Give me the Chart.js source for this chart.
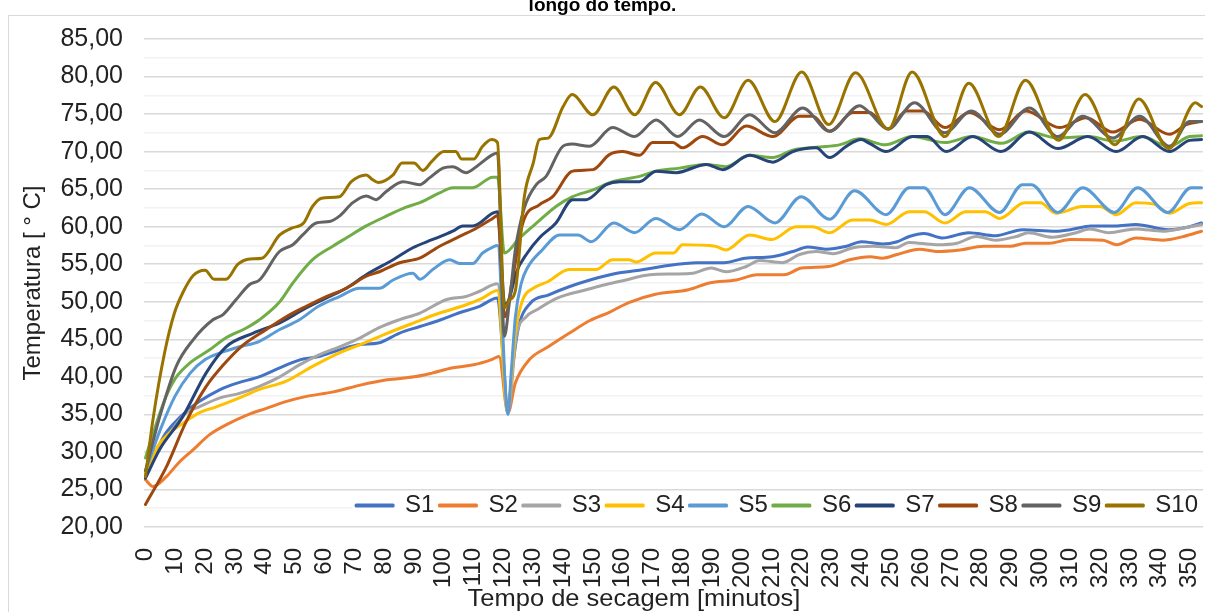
<!DOCTYPE html>
<html>
<head>
<meta charset="utf-8">
<script src="https://cdn.jsdelivr.net/npm/chart.js@4.4.1/dist/chart.umd.min.js"></script>
<style>
  html, body { margin: 0; padding: 0; background: #fff; }
  body { width: 1205px; height: 612px; overflow: hidden; position: relative; font-family: 'Liberation Sans', Arial, sans-serif; }
  #frame { position: absolute; left: 8px; top: 15px; width: 1220px; height: 640px; border: 1px solid #d9d9d9; box-sizing: border-box; }
  #chart { position: absolute; left: 0; top: 0; }
  #title { position: absolute; left: 0; top: -5px; width: 1205px; text-align: center; font-weight: bold; font-size: 19px; line-height: 19px; color: #000; }
  #xTitle { position: absolute; left: 634px; top: 585px; transform: translateX(-50%) scaleX(1.04); font-size: 24.5px; line-height: 26px; color: #222; white-space: nowrap; }
</style>
</head>
<body>
<div id="frame"></div>
<!-- canvas is taller than the page: the spare strip below holds the legend's layout slot -->
<canvas id="chart" width="1205" height="660"></canvas>
<div id="title">longo do tempo.</div>
<div id="xTitle">Tempo de secagem [minutos]</div>
<script>
// series names and colours
const seriesNames = ['S1', 'S2', 'S3', 'S4', 'S5', 'S6', 'S7', 'S8', 'S9', 'S10'];
const seriesColors = ['#4472c4', '#ed7d31', '#a5a5a5', '#ffc000', '#5b9bd5', '#70ad47', '#264478', '#9e480e', '#636363', '#997300'];

// [minute, temperature]
const s1 = [[0,26.8],[3,29.5],[6,32],[10,34],[14,35.5],[18,36.7],[25,38.3],[31,39.2],[38,40.0],[45,41.2],[52,42.3],[58,42.7],[65,43.6],[72,44.3],[78,44.5],[85,45.8],[92,46.7],[99,47.6],[105,48.5],[112,49.4],[118,50.5],[120,42],[121.5,35.2],[123,41],[125,46.5],[129,49.8],[135,50.9],[142,52.0],[149,52.9],[158,53.8],[167,54.3],[173,54.7],[185,55.2],[194,55.2],[201,55.8],[210,56.0],[217,56.7],[222,57.3],[228,57.0],[235,57.4],[240,58.0],[247,57.7],[252,58.0],[256,58.7],[261,59.1],[267,58.5],[276,59.2],[285,58.8],[294,59.6],[305,59.4],[310,59.6],[317,60.1],[325,60.1],[332,60.3],[343,59.6],[350,60.0],[354,60.5]];
const s2 = [[0,26.3],[2.5,25.4],[7,26.7],[11,28.5],[16,30.3],[21.5,32.3],[27,33.6],[34,34.9],[40.5,35.8],[47,36.7],[54,37.4],[63,38.0],[72,38.9],[81,39.6],[90,40.0],[96,40.5],[103,41.2],[110,41.6],[116,42.3],[118.5,42.7],[121.5,35.2],[124,39.2],[128.7,42.3],[135,44.0],[142,45.8],[149,47.5],[155.5,48.6],[162,49.9],[171,51.0],[182,51.6],[189,52.5],[198,52.9],[205,53.6],[214,53.6],[220,54.5],[229,54.7],[236,55.6],[243,56.0],[247,55.8],[252,56.3],[259.5,57.0],[265,56.7],[273,56.9],[281,57.4],[290,57.4],[295,57.8],[303,57.8],[310,58.3],[321,58.2],[325.4,57.6],[332,58.5],[341,58.2],[348,58.7],[354,59.4]];
const s3 = [[0,27.0],[4,30.0],[9,33.0],[13.6,35.2],[18,36.0],[25,37.2],[31.5,37.8],[38,38.7],[45,40.0],[51.6,41.6],[58,42.9],[65,44.0],[72,45.2],[78,46.5],[85,47.6],[92,48.5],[101,50.3],[107.5,50.7],[112,51.4],[118,52.4],[121.5,35.2],[124.3,45.4],[127.6,48.0],[131,48.9],[138,50.5],[147.7,51.6],[154.4,52.3],[161,52.9],[169,53.6],[177,53.7],[183.5,53.8],[189.6,54.5],[194.6,54.0],[201.4,54.7],[205.8,55.5],[213.6,55.2],[219.2,56.3],[224.8,56.7],[230.4,56.4],[237.2,57.2],[244,57.4],[251.6,57.2],[256,57.9],[265,57.6],[272,57.8],[278.5,58.7],[285,58.2],[292,58.7],[296,59.2],[304,58.6],[312,59.2],[316.5,59.7],[323,59.2],[332,59.7],[341,59.4],[347.7,59.8],[354,60.3]];
const s4 = [[0,27.0],[4,30.7],[8,32.5],[12.5,33.8],[18,35.2],[23.7,36.0],[31.5,37.2],[38,38.3],[47,39.4],[56,41.4],[65,43.2],[72,44.3],[81,45.8],[90,47.2],[98.6,48.5],[107.5,49.6],[113,50.5],[118,51.5],[121.3,35.5],[124,46],[126.5,50.3],[130,51.8],[135,52.7],[142,54.3],[151,54.3],[156.6,55.6],[162,55.6],[164.5,55.3],[171,56.5],[177,56.5],[180,57.6],[191,57.4],[194.6,56.9],[202.5,58.9],[210,58.3],[218,60.0],[223.7,60.0],[229.3,59.2],[237,60.9],[242.7,60.9],[248.3,60.3],[256,62.0],[261,62.0],[268,60.5],[275,62.0],[281.5,62.0],[286.3,61.1],[294.7,63.2],[300,63.2],[305.2,61.8],[314.2,62.7],[320,62.7],[325.4,61.6],[332,63.2],[338,63.0],[343.3,61.8],[350,63.1],[354,63.2]];
const s5 = [[0,27.5],[5,33],[10,37.5],[15,40.5],[20,42.3],[25,43.2],[31.5,44.0],[38,44.7],[45,46.3],[51.6,47.6],[58,49.4],[65,50.7],[71.7,51.8],[78.4,51.8],[83,52.9],[89.6,53.8],[92,53.0],[96.3,54.3],[102,55.6],[105.3,55.1],[109.7,55.1],[113,56.5],[116.5,57.3],[118,57.5],[121.5,35.0],[122.5,40],[124,48],[126,52.5],[128,54.5],[133,56.9],[138.8,58.9],[145,58.9],[149.4,58.0],[157,60.5],[164,59.2],[171,61.1],[179,59.6],[186.5,61.7],[194,60.0],[202,62.7],[211,60.5],[219.8,64.0],[229.3,61.0],[237.7,64.8],[248.3,61.6],[256,65.2],[261,65.2],[268,61.6],[276.2,65.2],[286.3,61.9],[294,65.6],[297,65.6],[305.8,61.9],[314.2,65.2],[324.8,61.9],[332.6,65.2],[342.7,61.9],[350.5,65.2],[354,65.2]];
const s6 = [[0,29.2],[3,33],[7,37.5],[10,39.8],[14.7,41.8],[21.5,43.6],[27,45.2],[33.8,46.5],[38.2,47.6],[45,50.0],[49.4,52.5],[56,55.6],[62.8,57.4],[67.3,58.5],[74,60.1],[80.7,61.4],[87.4,62.6],[92,63.2],[98.6,64.5],[103,65.2],[109.7,65.2],[116.4,66.6],[118,66.6],[120.3,56.5],[125.4,58.5],[132,60.8],[137.6,62.7],[143.2,64.0],[150,64.9],[156.6,66.0],[165.6,66.7],[171.2,67.4],[179,67.8],[188,68.3],[194.6,68.0],[202.5,69.5],[210.3,69.2],[217,70.2],[226,70.6],[232.6,70.9],[239.4,71.7],[248,70.9],[257,72.0],[268,71.2],[277,72.0],[287,71.1],[296,72.6],[306,71.8],[316,72.0],[325,71.4],[334,72.0],[343,70.7],[350,72.0],[354,72.1]];
const s7 = [[0,26.5],[4.7,30.3],[12.5,34.7],[20.3,40.5],[27,44.0],[36,45.8],[45,47.2],[54,49.2],[62.8,50.9],[67.3,51.8],[74,53.6],[83,55.6],[89.6,57.2],[96.3,58.3],[103,59.4],[106.4,60.1],[109.7,60.1],[116.4,61.8],[118,62.0],[120.5,49.5],[122,50.5],[124.2,53.8],[128,56.5],[132,58.5],[137.6,60.5],[143.2,63.6],[147.7,63.6],[154.4,65.6],[159,66.0],[165.6,66.0],[171.2,67.4],[177.9,67.2],[188,68.3],[193.5,67.6],[202.5,69.5],[210.3,68.6],[217,70.0],[224.8,70.5],[229.3,69.2],[234.9,70.7],[239.9,71.6],[242.7,71.1],[248.3,70.0],[257.2,72.0],[262,72.0],[268.4,70.0],[277.3,72.0],[286.8,70.0],[296.3,72.6],[305.8,70.4],[315.9,72.0],[325.4,70.0],[334.3,72.0],[343.3,70.0],[350,71.5],[354,71.6]];
const s8 = [[0,23.0],[7,28.0],[13.6,34.0],[20.3,38.7],[25.9,41.5],[32.6,44.2],[40.5,46.3],[47.2,48.0],[53.9,49.4],[60.6,50.7],[67.3,51.8],[74,53.4],[78.4,54.0],[85.2,55.2],[91.9,55.8],[98.6,57.4],[105.3,58.7],[110.9,59.8],[116.4,61.1],[118,61.5],[120.5,48],[123,53],[126.5,60.5],[132,62.9],[136.5,64.0],[143.2,67.4],[150,67.6],[155.5,69.6],[160,70.0],[165.6,69.5],[170,71.2],[176.8,71.2],[180,70.5],[186.8,72.0],[193.5,70.9],[201.4,73.4],[210.3,72.0],[219.2,74.7],[223.7,74.7],[229.3,72.7],[237.2,75.2],[242.7,75.2],[249,73.0],[255,75.4],[260.6,75.4],[268,73.2],[276.2,75.2],[286.3,72.9],[295.2,75.4],[306.4,73.2],[315.3,74.5],[324.3,72.6],[333.2,74.3],[343.3,72.3],[348.9,73.6],[354,74.0]];
const s9 = [[0,27.5],[5,35.0],[10.3,41.4],[15.9,44.9],[22.6,47.6],[26,48.3],[30.4,50.3],[34.9,52.3],[38.2,52.9],[44.9,56.7],[49.4,57.6],[52.7,58.9],[57.2,60.5],[61.7,60.7],[65,61.4],[69.5,63.2],[74,64.1],[77.3,63.6],[80.7,64.7],[86.3,66.0],[91.9,65.6],[95.2,66.5],[99.7,67.8],[103,68.0],[107.5,67.2],[110.9,68.0],[116.4,69.6],[118,69.8],[120.3,45.4],[122,50],[124,57],[127,62.5],[131,65.6],[134.3,66.7],[139.9,70.7],[143,71.0],[148.8,70.7],[156.6,73.2],[163.9,72.0],[171.2,74.2],[178.4,72.0],[185.7,74.2],[194,72.0],[202.5,74.9],[211,72.5],[220.3,75.8],[229.3,72.7],[239.4,76.1],[242.7,75.2],[248.9,73.0],[257.8,76.5],[267.9,72.5],[276.8,75.4],[286.3,72.3],[296.3,75.8],[305.8,72.0],[314.2,74.7],[324.3,71.8],[333.2,74.7],[343.3,70.7],[350,74.0],[354,74.0]];
const s10 = [[0,26.7],[2.5,34.3],[6.4,43.2],[9.7,48.5],[12.5,51.2],[16,53.5],[20,54.2],[23,53.0],[27,53.0],[31,55.0],[35,55.7],[39,55.8],[45,58.9],[49,59.8],[53,60.5],[56,62.7],[59,63.8],[65,64.0],[69,66.0],[74,66.9],[76,66.3],[78,65.9],[83,66.9],[86,68.5],[90,68.5],[93,67.5],[96,68.7],[100,70.0],[104,70.0],[106,69.0],[110,69.0],[113,70.7],[116,71.6],[118,71.2],[120.3,49.2],[122,50.2],[124,51.5],[127,64.0],[130,68.5],[132,71.6],[135,71.8],[140,76.0],[143,77.6],[150,74.9],[157,78.6],[164,74.9],[171,79.2],[179,74.9],[186,78.6],[194,74.5],[202,79.5],[211,74.0],[220,80.6],[229,73.6],[238,80.5],[249,73.0],[257,80.6],[268,72.0],[276,79.1],[286,72.0],[295,79.5],[306,71.5],[315,77.6],[325,70.9],[333,77.0],[343,70.4],[352,76.5],[354,76.0]];
const seriesData = [s1, s2, s3, s4, s5, s6, s7, s8, s9, s10];

// axes
const xTickValues = [0,10,20,30,40,50,60,70,80,90,100,110,120,130,140,150,160,170,180,190,200,210,220,230,240,250,260,270,280,290,300,310,320,330,340,350];
const yMin = 20, yMax = 85, yMinorStep = 2.5, yMajorStep = 5;

Chart.defaults.font.family = "'Liberation Sans', Arial, sans-serif";
Chart.defaults.color = '#222';

const plotBottom = 527;    // pixel row of the 20,00 grid line
const legendMiddle = 508;  // legend row sits inside the plot

// legend sits inside the plot, above the x axis, on a white patch
const legendInPlot = {
  id: 'legendInPlot',
  afterLayout(chart) {
    const lg = chart.legend;
    const h = lg.bottom - lg.top;
    lg.top = legendMiddle - h / 2;
    lg.bottom = lg.top + h;
  },
  beforeDatasetsDraw(chart) {
    const lg = chart.legend;
    const ctx = chart.ctx;
    const left = lg.right - lg.lineWidths[0] - 4;
    const top = Math.max(lg.top, 492);
    const bottom = Math.min(lg.bottom, 525);
    ctx.save();
    ctx.fillStyle = '#fff';
    ctx.fillRect(left, top, lg.right - left, bottom - top);
    ctx.restore();
    lg.draw();
  }
};

const datasets = seriesData.map((pts, i) => ({
  label: seriesNames[i],
  data: pts.map(([x, y]) => ({ x, y })),
  borderColor: seriesColors[i],
  backgroundColor: seriesColors[i],
  borderWidth: 3,
  borderJoinStyle: 'round',
  borderCapStyle: 'round',
  pointRadius: 0,
  cubicInterpolationMode: 'monotone',
  fill: false,
  order: seriesNames.length - i
}));

new Chart(document.getElementById('chart'), {
  type: 'line',
  data: { datasets },
  plugins: [legendInPlot],
  options: {
    responsive: false,
    animation: false,
    events: [],
    layout: { autoPadding: false, padding: { left: 0, right: 2, top: 39, bottom: 0 } },
    plugins: {
      tooltip: { enabled: false },
      legend: {
        position: 'bottom',
        align: 'end',
        reverse: true,
        labels: { boxWidth: 37, boxHeight: 1, padding: 5, font: { size: 24 }, color: '#222' }
      }
    },
    scales: {
      x: {
        type: 'linear',
        min: -0.5,
        max: 354.5,
        grid: { display: false },
        border: { display: false },
        afterBuildTicks: s => { s.ticks = xTickValues.map(v => ({ value: v })); },
        afterFit: s => {
          s.height = s.chart.height - plotBottom - s.chart.legend.height;
          s.paddingLeft = 0;
          s.paddingRight = 0;
        },
        ticks: { autoSkip: false, minRotation: 90, maxRotation: 90, padding: 13, font: { size: 24 } }
      },
      y: {
        min: yMin,
        max: yMax,
        border: { display: false },
        grid: {
          drawTicks: false,
          color: c => (c.tick && c.tick.value % yMajorStep === 0) ? '#d9d9d9' : '#f2f2f2',
          lineWidth: 1.5
        },
        afterFit: s => { s.width = 144; s.paddingTop = 0; s.paddingBottom = 0; },
        ticks: {
          stepSize: yMinorStep,
          autoSkip: false,
          maxTicksLimit: 100,
          padding: 21,
          font: { size: 25 },
          callback: v => (v % yMajorStep === 0) ? v.toFixed(2).replace('.', ',') : ''
        },
        title: {
          display: true,
          text: 'Temperatura [ ° C]',
          font: { size: 24 },
          color: '#222',
          padding: { top: 19, bottom: 0 }
        }
      }
    }
  }
});
</script>
</body>
</html>
